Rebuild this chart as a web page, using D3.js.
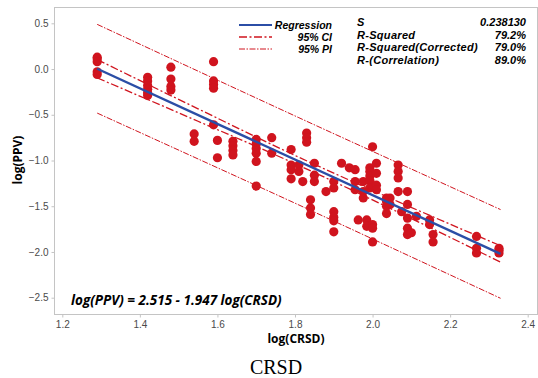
<!DOCTYPE html>
<html>
<head>
<meta charset="utf-8">
<script src="https://cdn.jsdelivr.net/npm/d3@7"></script>
<style>
  body { margin: 0; background: #fff; }
  svg { display: block; }
</style>
</head>
<body>
<div id="chart"></div>
<script>
// scatter points: log(CRSD), log(PPV)
const crsd = [
  1.29, 1.29, 1.29, 1.29, 1.29,
  1.42, 1.42, 1.42, 1.42, 1.42, 1.42,
  1.48, 1.48, 1.48, 1.48,
  1.54, 1.54,
  1.59, 1.59, 1.59, 1.59, 1.59,
  1.60, 1.60,
  1.64, 1.64, 1.64, 1.64,
  1.70, 1.70, 1.70, 1.70, 1.70, 1.70,
  1.74, 1.74,
  1.79, 1.79, 1.79, 1.79,
  1.81, 1.81, 1.82,
  1.83, 1.83, 1.83,
  1.84, 1.84, 1.84,
  1.85, 1.85, 1.85,
  1.88,
  1.90, 1.90, 1.90, 1.90, 1.90, 1.90,
  1.92, 1.94,
  1.955, 1.955, 1.955,
  1.963,
  1.976, 1.976, 1.976,
  1.985, 1.985,
  1.993, 1.993, 1.993, 1.993, 1.993,
  2.0, 2.0, 2.0, 2.0,
  2.01, 2.01, 2.01, 2.01,
  2.036, 2.036, 2.036, 2.036,
  2.045, 2.045,
  2.066, 2.066, 2.066, 2.066,
  2.075,
  2.09, 2.09, 2.09, 2.09, 2.09,
  2.10, 2.113,
  2.147, 2.147,
  2.156, 2.156,
  2.268, 2.268, 2.268,
  2.326, 2.326, 2.326
];
const ppv = [
  0.13, 0.11, 0.08, -0.03, -0.06,
  -0.09, -0.13, -0.18, -0.22, -0.26, -0.29,
  0.02, -0.11, -0.19, -0.23,
  -0.71, -0.79,
  0.08, -0.13, -0.17, -0.21, -0.61,
  -0.78, -0.97,
  -0.79, -0.84, -0.89, -0.94,
  -0.77, -0.82, -0.87, -0.92, -1.01, -1.28,
  -0.75, -0.92,
  -0.88, -1.05, -1.10, -1.20,
  -1.05, -1.12, -1.23,
  -0.70, -0.75, -0.80,
  -1.43, -1.52, -1.59,
  -1.03, -1.16, -1.23,
  -1.34,
  -1.23, -1.30, -1.56, -1.62, -1.66, -1.78,
  -1.03, -1.08,
  -1.10, -1.23, -1.32,
  -1.65,
  -1.23, -1.34, -1.41,
  -1.65, -1.72,
  -1.08, -1.12, -1.17, -1.22, -1.30,
  -0.85, -1.70, -1.74, -1.89,
  -1.03, -1.14, -1.27, -1.32,
  -1.41, -1.45, -1.50, -1.58,
  -1.41, -1.48,
  -1.05, -1.12, -1.19, -1.34,
  -1.56,
  -1.34, -1.48, -1.63, -1.74, -1.81,
  -1.79, -1.61,
  -1.65, -1.70,
  -1.81, -1.89,
  -1.83, -1.96, -2.01,
  -1.96, -1.98, -2.01
];

// fitted line and band half-widths
const intercept = 2.515;
const slope = -1.947;
const bandX = [1.29, 1.55, 1.81, 2.07, 2.33];
const ciHalf = [0.10, 0.068, 0.045, 0.058, 0.09];
const piHalf = [0.485, 0.48, 0.477, 0.48, 0.485];

const xTicks = [1.2, 1.4, 1.6, 1.8, 2.0, 2.2, 2.4];
const yTicks = [0.5, 0.0, -0.5, -1.0, -1.5, -2.0, -2.5];

const legendItems = ["Regression", "95% CI", "95% PI"];
const statNames = ["S", "R-Squared", "R-Squared(Corrected)", "R-(Correlation)"];
const statValues = ["0.238130", "79.2%", "79.0%", "89.0%"];

const W = 538, H = 378;
const frame = { left: 54.5, right: 537.5, top: 7.5, bottom: 314.5 };

const svg = d3.select("#chart").append("svg")
  .attr("width", W).attr("height", H)
  .style("font-family", "'Open Sans', 'Noto Sans', sans-serif");

const x = d3.scaleLinear().domain([1.2, 2.4]).range([62.3, 527.7]);
const y = d3.scaleLinear().domain([0.5, -2.5]).range([23.3, 297.7]);

const red = "#d0141e";

// frame
svg.append("rect")
  .attr("x", frame.left).attr("y", frame.top)
  .attr("width", frame.right - frame.left)
  .attr("height", frame.bottom - frame.top)
  .attr("fill", "none").attr("stroke", "#c4c4c4").attr("stroke-width", 1);

// axes
const xAxis = svg.append("g")
  .attr("transform", `translate(0,${frame.bottom})`)
  .call(d3.axisBottom(x).tickValues(xTicks).tickFormat(d3.format(".1f")).tickSize(3).tickPadding(3));
const yAxis = svg.append("g")
  .attr("transform", `translate(${frame.left},0)`)
  .call(d3.axisLeft(y).tickValues(yTicks).tickFormat(d3.format(".1f")).tickSize(3).tickPadding(3));
[xAxis, yAxis].forEach(g => {
  g.select(".domain").remove();
  g.selectAll("line").attr("stroke", "#c4c4c4");
  g.selectAll("text").attr("fill", "#4a4a4a").style("font-size", "10px");
});

// axis titles
svg.append("text")
  .attr("x", 296).attr("y", 343)
  .attr("text-anchor", "middle")
  .style("font-size", "12px").style("font-weight", "bold")
  .text("log(CRSD)");
svg.append("text")
  .attr("transform", "translate(22,160) rotate(-90)")
  .attr("text-anchor", "middle")
  .style("font-size", "12px").style("font-weight", "bold")
  .text("log(PPV)");

const plot = svg.append("g");

const fit = v => intercept + slope * v;
const band = (half, sign) => d3.line()
  .x(d => x(d))
  .y((d, i) => y(fit(d) + sign * half[i]))
  .curve(d3.curveMonotoneX)(bandX);

// prediction interval
[1, -1].forEach(s => {
  plot.append("path")
    .attr("d", band(piHalf, s))
    .attr("fill", "none").attr("stroke", red)
    .attr("stroke-width", 1).attr("stroke-dasharray", "6,1.5,1.5,1.5");
});

// points
plot.selectAll("circle")
  .data(crsd.map((c, i) => [c, ppv[i]]))
  .enter().append("circle")
  .attr("cx", d => x(d[0]))
  .attr("cy", d => y(d[1]))
  .attr("r", 4.6)
  .attr("fill", red);

// confidence interval
[1, -1].forEach(s => {
  plot.append("path")
    .attr("d", band(ciHalf, s))
    .attr("fill", "none").attr("stroke", red)
    .attr("stroke-width", 1.3).attr("stroke-dasharray", "8,2.5,2,2.5");
});

// regression line
const xr = d3.extent(bandX);
plot.append("line")
  .attr("x1", x(xr[0])).attr("y1", y(fit(xr[0])))
  .attr("x2", x(xr[1])).attr("y2", y(fit(xr[1])))
  .attr("stroke", "#2b4ea6").attr("stroke-width", 2.4);

// legend
const legend = svg.append("g")
  .style("font-family", "'Liberation Sans', Arial, sans-serif")
  .style("font-style", "italic").style("font-weight", "bold");
const legStyles = [
  { c: "#2b4ea6", w: 2.2, dash: null },
  { c: red, w: 1.3, dash: "8,2.5,2,2.5" },
  { c: red, w: 1, dash: "6,1.5,1.5,1.5" }
];
legendItems.forEach((t, i) => {
  const yy = 25 + i * 12;
  legend.append("line")
    .attr("x1", 239).attr("x2", 272).attr("y1", yy).attr("y2", yy)
    .attr("stroke", legStyles[i].c).attr("stroke-width", legStyles[i].w)
    .attr("stroke-dasharray", legStyles[i].dash);
  legend.append("text")
    .attr("x", 332).attr("y", yy + 4)
    .attr("text-anchor", "end")
    .style("font-size", "10.5px").text(t);
});
statNames.forEach((t, i) => {
  const yy = 26 + i * 12.7;
  legend.append("text").attr("x", 357).attr("y", yy)
    .style("font-size", "11px").style("letter-spacing", "0.3px")
    .text(t);
  legend.append("text").attr("x", 526).attr("y", yy)
    .attr("text-anchor", "end").style("font-size", "11px").text(statValues[i]);
});

// equation
svg.append("text")
  .attr("x", 71).attr("y", 305)
  .style("font-size", "13.5px").style("font-style", "italic").style("font-weight", "bold")
  .text(`log(PPV) = ${intercept.toFixed(3)} - ${Math.abs(slope).toFixed(3)} log(CRSD)`);

// caption
svg.append("text")
  .attr("x", 276).attr("y", 374)
  .attr("text-anchor", "middle")
  .style("font-family", "'Liberation Serif', 'DejaVu Serif', serif")
  .style("font-size", "20px")
  .text("CRSD");
</script>
</body>
</html>
